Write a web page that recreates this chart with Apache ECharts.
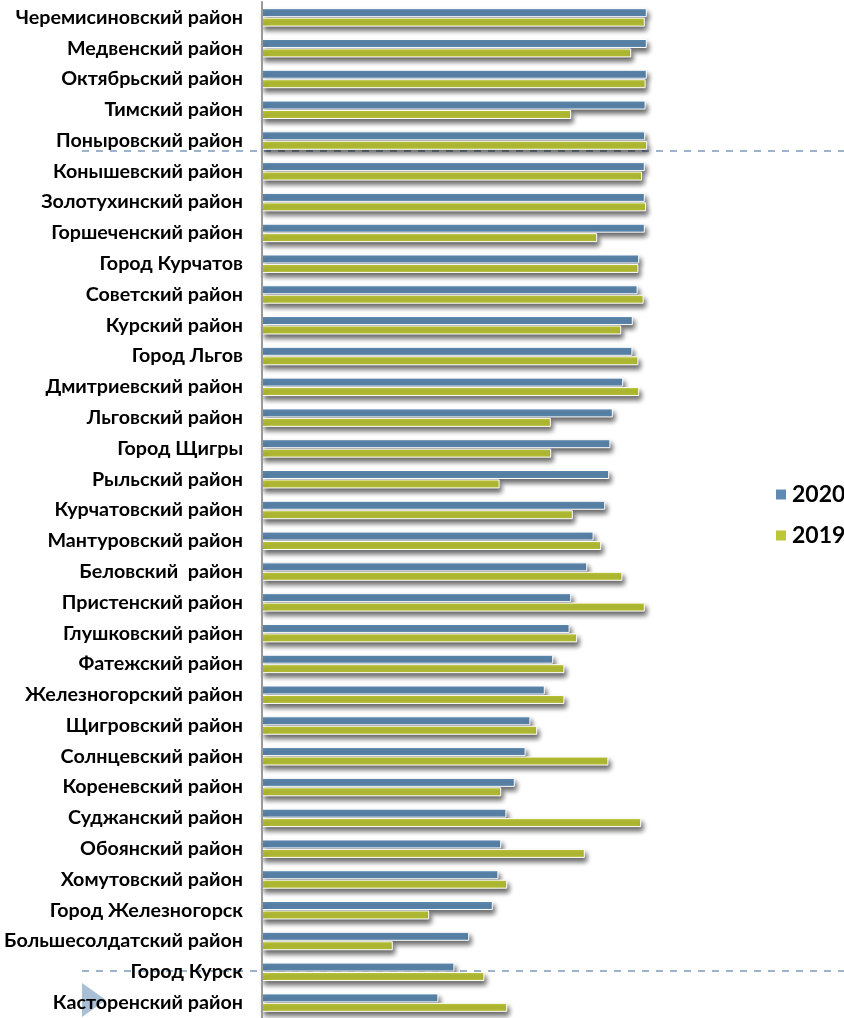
<!DOCTYPE html>
<html><head><meta charset="utf-8">
<script src="https://cdn.jsdelivr.net/npm/echarts@6/dist/echarts.min.js"></script>
<style>html,body{margin:0;padding:0;background:#fff}#c{width:844px;height:1018px}</style>
</head><body><div id="c"></div>
<script>
const categories = ["Черемисиновский район","Медвенский район","Октябрьский район","Тимский район","Поныровский район","Конышевский район","Золотухинский район","Горшеченский район","Город Курчатов","Советский район","Курский район","Город Льгов","Дмитриевский район","Льговский район","Город Щигры","Рыльский район","Курчатовский район","Мантуровский район","Беловский  район","Пристенский район","Глушковский район","Фатежский район","Железногорский район","Щигровский район","Солнцевский район","Кореневский район","Суджанский район","Обоянский район","Хомутовский район","Город Железногорск","Большесолдатский район","Город Курск","Касторенский район"];
const values2020 = [96.2,96.2,96.2,95.9,95.8,95.7,95.7,95.7,94.3,93.9,92.7,92.6,90.3,87.7,87.1,86.8,85.8,82.9,81.3,77.3,76.9,72.8,70.7,67.1,65.9,63.2,61.1,59.8,59.1,57.7,51.8,48.1,44.1];
const values2019 = [95.7,92.3,95.9,77.3,96.3,95.0,96.0,83.8,94.1,95.4,89.8,94.1,94.3,72.2,72.3,59.4,77.7,84.8,90.1,95.7,78.8,75.6,75.6,68.8,86.6,59.8,94.8,80.7,61.3,41.8,32.7,55.6,61.3];
const seriesNames = ["2020","2019"];

const chart = echarts.init(document.getElementById('c'));
const barStyle = (c) => ({color:c, borderColor:'#fff', borderWidth:1, shadowColor:'rgba(0,0,0,0.6)', shadowBlur:5, shadowOffsetX:2, shadowOffsetY:4});
chart.setOption({
  animation:false,
  grid:{left:262, top:2, width:400, height:1017},
  legend:{orient:'vertical', left:769, top:478, itemWidth:12, itemHeight:12, itemGap:18, icon:'rect',
    textStyle:{fontFamily:'Lato', fontWeight:'bold', fontSize:23, color:'#000'}, data:seriesNames},
  xAxis:{type:'value', min:0, max:100, show:false, splitLine:{show:false}},
  yAxis:{type:'category', inverse:true, data:categories, z:5,
    axisLine:{show:true, lineStyle:{color:'#9a9a9a', width:2}},
    axisTick:{show:false},
    axisLabel:{margin:19, fontFamily:'Lato', fontWeight:'bold', fontSize:19.7, color:'#000'}},
  series:[
    {name:seriesNames[0], type:'bar', data:values2020, barWidth:9, barGap:'5%', itemStyle:barStyle('#5F8BB3'), z:3},
    {name:seriesNames[1], type:'bar', data:values2019, barWidth:9, barGap:'5%', itemStyle:barStyle('#BDC736'), z:3}
  ],
  graphic:[
    {type:'line', shape:{x1:82,y1:151,x2:844,y2:151}, style:{stroke:'rgba(130,160,190,0.8)', lineWidth:2, lineDash:[7,7]}, z:1},
    {type:'line', shape:{x1:82,y1:971,x2:844,y2:971}, style:{stroke:'rgba(130,160,190,0.8)', lineWidth:2, lineDash:[7,7]}, z:1},
    {type:'polygon', shape:{points:[[82,983],[106,1000],[82,1017]]}, style:{fill:'rgba(140,170,200,0.75)'}, z:1}
  ]
});
</script></body></html>
